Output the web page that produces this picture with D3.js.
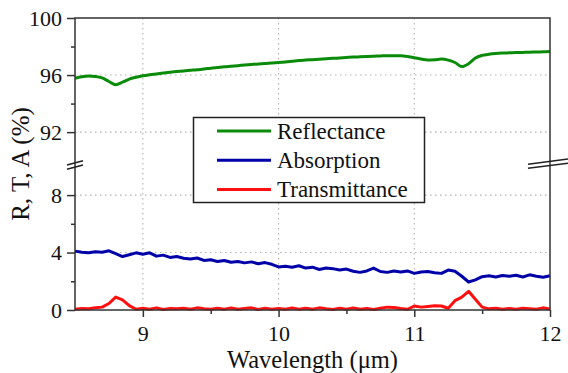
<!DOCTYPE html>
<html>
<head>
<meta charset="utf-8">
<script src="https://cdn.jsdelivr.net/npm/d3@7"></script>
<style>
  html, body { margin: 0; padding: 0; background: #fff; }
  svg { display: block; }
</style>
</head>
<body>
<svg id="chart" width="568" height="373"></svg>
<script>
const wavelength = [8.50,8.55,8.60,8.65,8.70,8.75,8.80,8.85,8.90,8.95,
  9.00,9.05,9.10,9.15,9.20,9.25,9.30,9.35,9.40,9.45,
  9.50,9.55,9.60,9.65,9.70,9.75,9.80,9.85,9.90,9.95,
  10.00,10.05,10.10,10.15,10.20,10.25,10.30,10.35,10.40,10.45,
  10.50,10.55,10.60,10.65,10.70,10.75,10.80,10.85,10.90,10.95,
  11.00,11.05,11.10,11.15,11.20,11.25,11.30,11.35,11.40,11.45,
  11.50,11.55,11.60,11.65,11.70,11.75,11.80,11.85,11.90,11.95,12.00];

const reflectance = [95.78,95.88,95.93,95.90,95.80,95.55,95.32,95.50,95.72,95.85,
  95.95,96.02,96.08,96.14,96.20,96.25,96.28,96.33,96.38,96.42,
  96.48,96.53,96.58,96.62,96.66,96.70,96.74,96.78,96.81,96.85,
  96.88,96.92,96.97,97.02,97.05,97.08,97.11,97.14,97.17,97.20,
  97.23,97.26,97.28,97.30,97.32,97.34,97.36,97.36,97.35,97.30,
  97.22,97.12,97.06,97.08,97.12,97.05,96.88,96.60,96.80,97.20,
  97.38,97.46,97.51,97.54,97.56,97.58,97.59,97.60,97.62,97.63,97.65];

const absorption = [4.10,4.02,3.98,4.05,4.02,4.12,3.92,3.72,3.85,3.98,
  3.88,3.98,3.75,3.82,3.66,3.72,3.60,3.55,3.62,3.45,
  3.50,3.38,3.45,3.32,3.38,3.28,3.35,3.22,3.30,3.18,
  3.00,3.05,2.98,3.08,2.92,2.98,2.82,2.92,2.88,2.78,
  2.85,2.70,2.62,2.72,2.92,2.68,2.62,2.72,2.65,2.72,
  2.55,2.65,2.68,2.60,2.55,2.78,2.70,2.35,1.95,2.10,
  2.32,2.38,2.30,2.40,2.35,2.42,2.30,2.45,2.35,2.28,2.38];

const transmittance = [0.05,0.10,0.08,0.15,0.20,0.45,0.90,0.70,0.30,0.05,
  0.12,0.05,0.15,0.03,0.10,0.08,0.12,0.05,0.15,0.08,
  0.05,0.12,0.06,0.14,0.05,0.10,0.15,0.04,0.12,0.06,
  0.10,0.05,0.14,0.06,0.12,0.05,0.15,0.08,0.04,0.12,
  0.06,0.14,0.05,0.10,0.04,0.12,0.20,0.18,0.10,0.05,
  0.28,0.20,0.25,0.30,0.28,0.12,0.65,0.90,1.30,0.75,
  0.20,0.08,0.12,0.05,0.10,0.06,0.12,0.08,0.05,0.15,0.06];

const xTicks = [9, 10, 11, 12];
const xMinorTicks = [9.5, 10.5, 11.5];
const yTopTicks = [92, 96, 100];
const yTopMinorTicks = [94, 98];
const yBotTicks = [0, 4, 8];
const yBotMinorTicks = [2, 6];
const seriesNames = ["Reflectance", "Absorption", "Transmittance"];
const seriesColors = ["#0a8c0a", "#0000a8", "#ff1010"];

const FONT = '"Liberation Serif"';
const svg = d3.select("#chart");

const x = d3.scaleLinear().domain([8.5, 12]).range([75, 550]);
const yTop = d3.scaleLinear().domain([89.8, 100]).range([163.5, 18]);
const yBot = d3.scaleLinear().domain([0, 10.2]).range([310, 163.5]);

const pLeft = x.range()[0], pRight = x.range()[1];
const pTop = yTop.range()[1], pBottom = yBot.range()[0];

// grid
const grid = svg.append("g").attr("stroke", "#b0b0b0").attr("stroke-width", 1.1)
  .attr("stroke-dasharray", "1.5,3.5");
[9, 10, 11].forEach(v => grid.append("line")
  .attr("x1", x(v)).attr("x2", x(v)).attr("y1", pTop).attr("y2", pBottom));
[92, 96].forEach(v => grid.append("line")
  .attr("x1", pLeft).attr("x2", pRight).attr("y1", yTop(v)).attr("y2", yTop(v)));
[4, 8].forEach(v => grid.append("line")
  .attr("x1", pLeft).attr("x2", pRight).attr("y1", yBot(v)).attr("y2", yBot(v)));

// lines
const lineTop = d3.line().x((d, i) => x(wavelength[i])).y(d => yTop(d)).curve(d3.curveMonotoneX);
const lineBot = d3.line().x((d, i) => x(wavelength[i])).y(d => yBot(d));
svg.append("path").attr("d", lineTop(reflectance)).attr("fill", "none")
  .attr("stroke", seriesColors[0]).attr("stroke-width", 3).attr("stroke-linejoin", "round");
svg.append("path").attr("d", lineBot(absorption)).attr("fill", "none")
  .attr("stroke", seriesColors[1]).attr("stroke-width", 3).attr("stroke-linejoin", "round");
svg.append("path").attr("d", lineBot(transmittance)).attr("fill", "none")
  .attr("stroke", seriesColors[2]).attr("stroke-width", 3).attr("stroke-linejoin", "round");

// axes
function styleAxis(g) {
  g.attr("font-family", null);
  g.select(".domain").remove();
  g.selectAll("line").attr("stroke", "#333").attr("stroke-width", 1.5);
  g.selectAll("text").style("font-family", FONT).attr("font-size", 22).attr("fill", "#111");
}
svg.append("g").attr("transform", `translate(${pLeft},0)`)
  .call(d3.axisLeft(yTop).tickValues(yTopTicks).tickSize(8).tickPadding(5).tickFormat(d3.format("d")))
  .call(styleAxis);
svg.append("g").attr("transform", `translate(${pLeft},0)`)
  .call(d3.axisLeft(yTop).tickValues(yTopMinorTicks).tickSize(4).tickFormat(""))
  .call(styleAxis);
svg.append("g").attr("transform", `translate(${pLeft},0)`)
  .call(d3.axisLeft(yBot).tickValues(yBotTicks).tickSize(8).tickPadding(5).tickFormat(d3.format("d")))
  .call(styleAxis);
svg.append("g").attr("transform", `translate(${pLeft},0)`)
  .call(d3.axisLeft(yBot).tickValues(yBotMinorTicks).tickSize(4).tickFormat(""))
  .call(styleAxis);
svg.append("g").attr("transform", `translate(0,${pBottom})`)
  .call(d3.axisBottom(x).tickValues(xTicks).tickSize(7).tickPadding(8).tickFormat(d3.format("d")))
  .call(styleAxis);
svg.append("g").attr("transform", `translate(0,${pBottom})`)
  .call(d3.axisBottom(x).tickValues(xMinorTicks).tickSize(4).tickFormat(""))
  .call(styleAxis);

// frame
svg.append("rect").attr("x", pLeft).attr("y", pTop).attr("width", pRight - pLeft).attr("height", pBottom - pTop)
  .attr("fill", "none").attr("stroke", "#333").attr("stroke-width", 1.5);

// break marks
const brk = svg.append("g").attr("stroke", "#222").attr("stroke-width", 1.4);
brk.append("line").attr("x1", pLeft - 8).attr("y1", 165).attr("x2", pLeft + 8).attr("y2", 160.7);
brk.append("line").attr("x1", pLeft - 8).attr("y1", 169.3).attr("x2", pLeft + 8).attr("y2", 165);
brk.append("line").attr("x1", pRight - 22).attr("y1", 164.3).attr("x2", pRight + 18).attr("y2", 159);
brk.append("line").attr("x1", pRight - 22).attr("y1", 168.3).attr("x2", pRight + 18).attr("y2", 163.3);

// legend
const lg = svg.append("g");
lg.append("rect").attr("x", 193.5).attr("y", 117.5).attr("width", 231).attr("height", 85)
  .attr("fill", "#fff").attr("stroke", "#222").attr("stroke-width", 1.5);
seriesNames.forEach((name, i) => {
  const yy = 131 + i * 29.2;
  lg.append("line").attr("x1", 217).attr("x2", 271).attr("y1", yy).attr("y2", yy)
    .attr("stroke", seriesColors[i]).attr("stroke-width", 3);
  lg.append("text").attr("x", 277).attr("y", yy + 8).text(name)
    .style("font-family", FONT).attr("font-size", 23).attr("fill", "#111");
});

// axis titles
svg.append("text").attr("x", (pLeft + pRight) / 2).attr("y", 367.5).attr("text-anchor", "middle")
  .style("font-family", FONT).attr("font-size", 24.5).attr("fill", "#111").text("Wavelength (μm)");
svg.append("text").attr("transform", `translate(29,${(pTop + pBottom) / 2}) rotate(-90)`)
  .attr("text-anchor", "middle")
  .style("font-family", FONT).attr("font-size", 25).attr("fill", "#111").text("R, T, A (%)");
</script>
</body>
</html>
